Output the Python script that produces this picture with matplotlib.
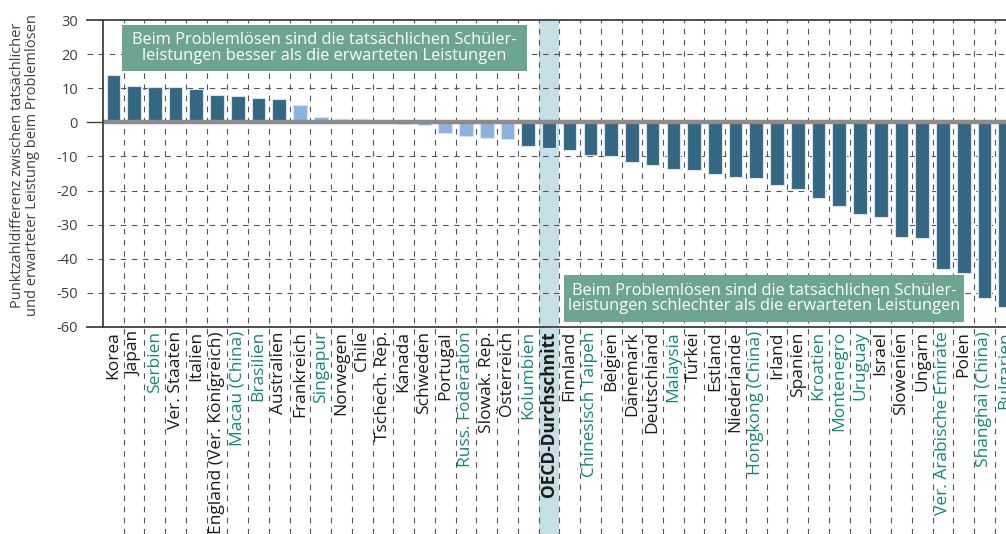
import matplotlib

matplotlib.use("Agg")

import matplotlib.pyplot as plt
import matplotlib.transforms as mtransforms
from matplotlib.patches import Rectangle

countries = [
    "Korea", "Japan", "Serbien", "Ver. Staaten", "Italien",
    "England (Ver. Königreich)", "Macau (China)", "Brasilien", "Australien",
    "Frankreich", "Singapur", "Norwegen", "Chile", "Tschech. Rep.", "Kanada",
    "Schweden", "Portugal", "Russ. Föderation", "Slowak. Rep.", "Österreich",
    "Kolumbien", "OECD-Durchschnitt", "Finnland", "Chinesisch Taipeh",
    "Belgien", "Dänemark", "Deutschland", "Malaysia", "Türkei", "Estland",
    "Niederlande", "Hongkong (China)", "Irland", "Spanien", "Kroatien",
    "Montenegro", "Uruguay", "Israel", "Slowenien", "Ungarn",
    "Ver. Arabische Emirate", "Polen", "Shanghai (China)", "Bulgarien",
]
differences = [
    13.9, 10.6, 10.5, 10.3, 9.9, 8.0, 7.6, 7.0, 6.8, 5.1, 1.5, 1.0, 0.9, 0.8,
    -0.4, -0.9, -3.0, -3.9, -4.7, -4.8, -6.9, -7.5, -8.0, -9.5, -9.9, -11.5,
    -12.5, -13.8, -14.0, -15.0, -15.9, -16.3, -18.4, -19.6, -22.3, -24.4,
    -26.8, -27.7, -33.6, -33.9, -43.1, -44.2, -51.4, -54.1,
]
# difference not significant -> light bar
not_significant = [
    "Frankreich", "Singapur", "Norwegen", "Chile", "Tschech. Rep.", "Kanada",
    "Schweden", "Portugal", "Russ. Föderation", "Slowak. Rep.", "Österreich",
]
partner_countries = [
    "Serbien", "Macau (China)", "Brasilien", "Singapur", "Russ. Föderation",
    "Kolumbien", "Chinesisch Taipeh", "Malaysia", "Hongkong (China)",
    "Kroatien", "Montenegro", "Uruguay", "Ver. Arabische Emirate",
    "Shanghai (China)", "Bulgarien",
]
y_ticks = [30, 20, 10, 0, -10, -20, -30, -40, -50, -60]

DARK = "#356783"
LIGHT = "#8ab3de"
TEAL = "#13877a"
GREEN_BOX = "#6da591"
BAND = "#c7e0e6"
GRID = "#555555"
AXIS = "#404040"

plt.rcParams["font.family"] = ["Open Sans", "DejaVu Sans"]

W, H = 1006, 534
fig = plt.figure(figsize=(W / 100, H / 100), dpi=100)
ax = fig.add_axes([103 / W, (H - 327) / H, 1 - 103 / W, 307 / H])

n = len(countries)
xs = list(range(n))
colors = [LIGHT if c in not_significant else DARK for c in countries]
ax.bar(xs, differences, width=0.66, color=colors, edgecolor="#d6e4ef",
       linewidth=0.8, zorder=3)

ax.set_ylim(-60, 30)
ax.set_xlim(-0.5, -0.5 + (W - 103) / 20.74)

below = -(534 - 327) / 307  # figure bottom in axes fraction
blend_x = mtransforms.blended_transform_factory(ax.transData, ax.transAxes)
blend_y = mtransforms.blended_transform_factory(ax.transAxes, ax.transData)

# OECD average band
oecd = countries.index("OECD-Durchschnitt")
ax.add_patch(Rectangle((oecd - 0.5, below), 1, 1 - below, transform=blend_x,
                       facecolor=BAND, edgecolor="none", zorder=0,
                       clip_on=False))

# vertical dashed separators, running down through the label area
for k in range(n - 1):
    ax.plot([k + 0.5, k + 0.5], [below, 1], transform=blend_x, color=GRID,
            lw=0.8, ls=(0, (5, 5)), zorder=1, clip_on=False)

# horizontal grid, extended left as tick marks
ext = -16 / (W - 103)
for v in y_ticks:
    if v in (30, -60):
        ax.plot([ext, 0], [v, v], transform=blend_y, color=AXIS, lw=1.3,
                clip_on=False, zorder=4)
    elif v == 0:
        ax.plot([ext, 0], [v, v], transform=blend_y, color=AXIS, lw=1.0,
                clip_on=False, zorder=4)
        ax.axhline(0, color="#8c8c8c", lw=3.2, zorder=4)
    else:
        ax.plot([ext, 1], [v, v], transform=blend_y, color=GRID, lw=0.8,
                ls=(0, (5, 5)), clip_on=False, zorder=1)

for side in ("left", "top", "bottom"):
    ax.spines[side].set_color(AXIS)
    ax.spines[side].set_linewidth(1.3)
    ax.spines[side].set_zorder(5)
ax.spines["right"].set_visible(False)

ax.set_yticks(y_ticks)
ax.set_yticklabels([str(v) for v in y_ticks], fontsize=10.5, color="#404040")
ax.tick_params(axis="y", length=0, pad=18)

ax.set_xticks(xs)
ax.set_xticklabels(countries, rotation=90, fontsize=12.5, ha="center",
                   va="top")
ax.tick_params(axis="x", length=0, pad=3)
for lab, c in zip(ax.get_xticklabels(), countries):
    if c in partner_countries:
        lab.set_color(TEAL)
    else:
        lab.set_color("#1a1a1a")
    if c == "OECD-Durchschnitt":
        lab.set_fontweight("bold")

fig.text(25 / W, 1 - 165 / H,
         "Punktzahldifferenz zwischen tatsächlicher\n"
         "und erwarteter Leistung beim Problemlösen",
         rotation=90, ha="center", va="center", multialignment="center",
         fontsize=10.5, color="#404040", linespacing=1.0)


def note_box(x0, y0, x1, y1, text):
    fig.patches.append(Rectangle((x0 / W, 1 - y1 / H), (x1 - x0) / W,
                                 (y1 - y0) / H, transform=fig.transFigure,
                                 facecolor=GREEN_BOX, edgecolor="none",
                                 zorder=6))
    fig.text((x0 + x1) / 2 / W, 1 - (y0 + y1) / 2 / H, text, ha="center",
             va="center", multialignment="center", fontsize=11.8,
             color="white", linespacing=0.98, zorder=7)


note_box(122, 25, 527, 71,
         "Beim Problemlösen sind die tatsächlichen Schüler-\n"
         "leistungen besser als die erwarteten Leistungen")
note_box(564, 275, 964, 322,
         "Beim Problemlösen sind die tatsächlichen Schüler-\n"
         "leistungen schlechter als die erwarteten Leistungen")

fig.savefig("out.png", dpi=100)
